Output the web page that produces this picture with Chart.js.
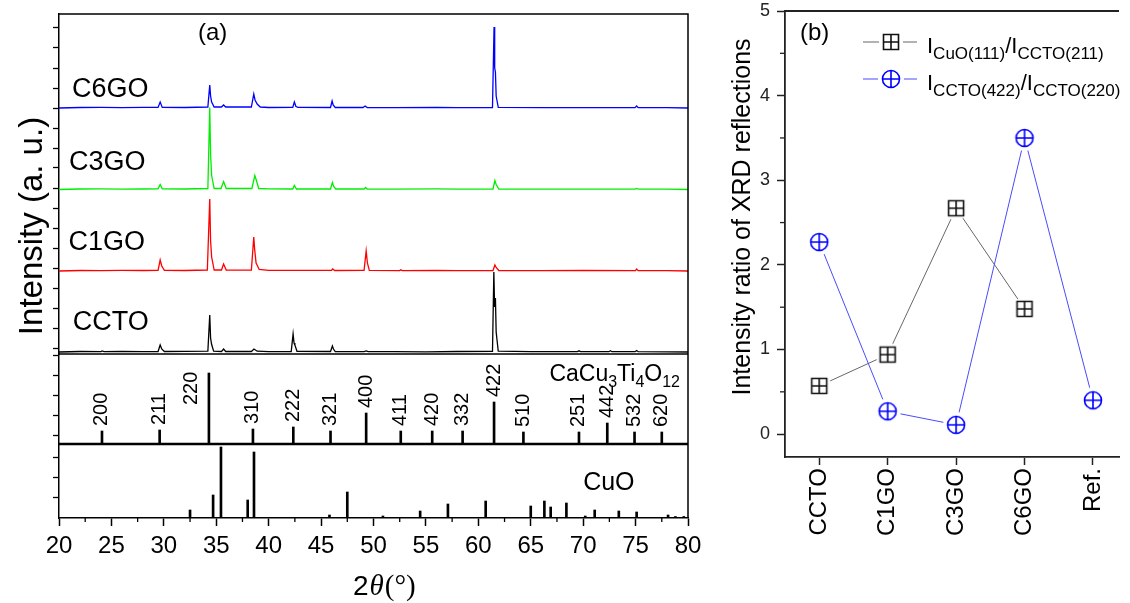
<!DOCTYPE html>
<html lang="en">
<head>
<meta charset="UTF-8">
<title>XRD patterns and intensity ratios</title>
<script src="https://cdn.jsdelivr.net/npm/chart.js"></script>
<style>
    body {
        margin: 0;
        width: 1130px;
        height: 603px;
        overflow: hidden;
        position: relative;
        background: #fff;
    }

    #xrd {
        position: absolute;
        left: 0;
        top: 0;
    }

    #ratio {
        position: absolute;
        left: 700px;
        top: 0;
    }
</style>
</head>
<body>
<canvas id="xrd" width="710" height="603"></canvas>
<canvas id="ratio" width="430" height="603"></canvas>
<script>
// ---------- panel (a): measured patterns, [2theta, intensity above own baseline] ----------
const cctoPattern = [[20,0],[22,0.5],[24,0.3],[24.1,1],[24.3,0.3],[26,0.6],[28,0.4],[29.45,0.5],[29.65,7],[29.8,3],[30.05,0.5],
    [32,0.6],[34.2,0.8],[34.38,37],[34.46,14],[34.55,8],[34.75,0.8],[35.5,0.5],[35.7,3],[35.9,0.5],[38.35,0.5],[38.6,3],[38.9,0.8],
    [40,0.4],[42.15,0.5],[42.33,18],[42.42,9],[42.5,7],[42.7,0.7],[45.9,0.5],[46.08,6],[46.18,3],[46.35,0.4],[49.1,0.3],[49.3,1],
    [49.5,0.3],[52,0.4],[55,0.2],[58,0.5],[61.35,0.6],[61.48,80],[61.55,45],[61.63,54],[61.7,20],[61.9,0.8],[65,0.3],[69.45,0.4],
    [69.6,1.2],[69.75,0.4],[72.45,0.3],[72.6,1.2],[72.75,0.3],[74.95,0.3],[75.1,1.5],[75.25,0.3],[78,0.2],[80,0]];
const c1goPattern = [[20,0],[22,0.5],[24,0.4],[26,0.6],[28,0.5],[29.45,0.6],[29.65,11],[29.8,5],[30.05,0.6],[32,0.5],[34.15,1],
    [34.38,72],[34.46,30],[34.56,14],[34.8,1],[35.5,1],[35.7,7],[35.95,1],[38.35,0.8],[38.58,34],[38.66,22],[38.8,8],[39.1,1.5],
    [40,0.6],[42.3,0.6],[46,0.6],[46.1,2],[46.3,0.5],[49.1,0.6],[49.3,20],[49.42,8],[49.6,0.6],[52.5,0.4],[52.6,1.2],[52.75,0.4],
    [56,0.5],[58,0.3],[61.4,0.5],[61.58,6],[61.7,3.5],[61.95,0.5],[66,0.4],[70,0.5],[75,0.4],[75.1,2],[75.25,0.4],[78,0.3],[80,0]];
const c3goPattern = [[20,0],[22,0.5],[24,0.6],[26,0.4],[28,0.5],[29.45,0.6],[29.65,5],[29.85,0.6],[32,0.5],[34.2,1],[34.38,82],
    [34.46,35],[34.56,14],[34.8,1],[35.45,1],[35.7,8],[35.95,1],[38.4,1],[38.68,14],[38.8,10],[39.05,1],[40,0.6],[42.3,0.5],
    [42.45,4],[42.65,0.5],[45.9,0.5],[46.08,7],[46.2,3],[46.4,0.5],[49.1,0.5],[49.25,2],[49.4,0.5],[52,0.4],[56,0.6],[58,0.4],
    [61.4,0.5],[61.58,9],[61.7,5],[61.95,0.5],[66,0.4],[70,0.3],[74.95,0.4],[75.1,1],[75.25,0.4],[78,0.3],[80,0]];
const c6goPattern = [[20,0],[22,0.5],[24,0.6],[26,0.4],[28,0.6],[29.45,0.6],[29.65,6],[29.85,0.6],[32,0.5],[34.2,1],[34.38,23],
    [34.46,12],[34.56,6],[34.8,1],[35.5,1],[35.7,3],[35.9,1],[38.35,1],[38.58,14],[38.7,8],[38.9,4],[39.2,1],[40,0.5],[42.3,0.6],
    [42.45,6],[42.6,1.5],[42.8,0.6],[45.9,0.5],[46.05,7],[46.15,3],[46.35,0.5],[49,0.5],[49.2,2],[49.4,0.5],[52,0.4],[56,0.5],
    [58,0.4],[61.35,0.5],[61.5,81],[61.56,40],[61.63,36],[61.7,12],[61.9,0.6],[66,0.4],[70,0.3],[74.95,0.4],[75.1,2],[75.25,0.4],
    [78,0.3],[80,0]];
const sampleNames = ['CCTO', 'C1GO', 'C3GO', 'C6GO'];
const patternOffsets = [2, 83, 164.5, 246];

// reference sticks
const cctoRefTheta = [24.1, 29.6, 34.3, 38.5, 42.35, 45.9, 49.3, 52.6, 55.6, 58.5, 61.5, 64.3, 69.6, 72.3, 74.9, 77.5];
const cctoRefInt = [13, 14, 71, 15, 17, 13, 31, 13, 13, 13, 42, 12, 12, 21, 12, 12];
const cctoRefHkl = ['200', '211', '220', '310', '222', '321', '400', '411', '420', '332', '422', '510', '251', '442', '532', '620'];
const cuoRefTheta = [32.5, 34.7, 35.45, 38.0, 38.6, 45.8, 47.5, 50.9, 54.45, 57.1, 60.7, 65.0, 66.3, 66.9, 68.4, 70.2, 71.1, 73.4,
    75.1, 78.1, 78.8, 79.6];
const cuoRefInt = [8, 23, 71, 18, 66, 3, 26, 2, 7, 14, 17, 12, 17, 11, 15, 2, 8, 7, 6, 3, 1.5, 1.5];

// ---------- panel (b): intensity ratios ----------
const ratioCategories = ['CCTO', 'C1GO', 'C3GO', 'C6GO', 'Ref.'];
const ratioCuO = [0.57, 0.94, 2.67, 1.48, null];
const ratioCCTO = [2.27, 0.27, 0.11, 3.5, 0.4];
const ratioTicks = [0, 1, 2, 3, 4, 5];

const FONT = "'Liberation Sans', Arial, sans-serif";
const SERIF = "'Liberation Serif', 'Times New Roman', serif";

// draw text made of normal and subscript pieces, returns width
function richText(ctx, x, y, parts, size, subSize, measureOnly) {
    let cx = x;
    parts.forEach(p => {
        ctx.font = (p.sub ? subSize : size) + 'px ' + FONT;
        if (!measureOnly) ctx.fillText(p.t, cx, y + (p.sub ? size * 0.28 : 0));
        cx += ctx.measureText(p.t).width;
    });
    return cx - x;
}

// ===================== chart (a) =====================
const patterns = [cctoPattern, c1goPattern, c3goPattern, c6goPattern];
const patternColors = ['#000000', '#ff0000', '#00ee00', '#0000ff'];
const labelLift = [22, 21, 19.5, 11];
const labelTheta = [21.3, 20.9, 20.95, 21.25];

const xrdDatasets = patterns.map((p, i) => ({
    type: 'line',
    label: sampleNames[i],
    data: p.map(d => ({ x: d[0], y: d[1] + patternOffsets[i] })),
    yAxisID: 'yPat',
    borderColor: patternColors[i],
    borderWidth: 1.3,
    pointRadius: 0,
    tension: 0
}));
xrdDatasets.push({
    type: 'bar', label: 'CaCu3Ti4O12', yAxisID: 'yRef', grouped: false, barThickness: 2,
    data: cctoRefTheta.map((t, i) => ({ x: t, y: cctoRefInt[i] })),
    backgroundColor: '#000'
});
xrdDatasets.push({
    type: 'bar', label: 'CuO', yAxisID: 'yCuO', grouped: false, barThickness: 2,
    data: cuoRefTheta.map((t, i) => ({ x: t, y: cuoRefInt[i] })),
    backgroundColor: '#000'
});

function leftAxis(max, weight, first) {
    return {
        type: 'linear', position: 'left', stack: 'left', stackWeight: weight, min: 0, max: max,
        afterBuildTicks: s => {
            const t = [];
            for (let v = first; v < max; v += 20) t.push({ value: v });
            s.ticks = t;
        },
        ticks: { display: false },
        grid: { drawOnChartArea: false, tickLength: 6, tickColor: '#000', tickWidth: 1.3 },
        border: { color: '#000', width: 1.5 },
        afterFit: s => { s.width = 59; s.paddingTop = 0; s.paddingBottom = 0; }
    };
}

const xrdDecor = {
    id: 'xrdDecor',
    afterDraw(chart) {
        const { ctx, chartArea: a } = chart;
        const x = chart.scales.x, yPat = chart.scales.yPat, yRef = chart.scales.yRef, yCuO = chart.scales.yCuO;
        ctx.save();
        ctx.strokeStyle = '#000';
        ctx.fillStyle = '#000';
        ctx.lineWidth = 1.5;
        // frame
        ctx.beginPath();
        ctx.moveTo(a.left, a.top);
        ctx.lineTo(a.right, a.top);
        ctx.lineTo(a.right, a.bottom);
        ctx.stroke();
        // dividers
        ctx.beginPath();
        ctx.moveTo(a.left, yPat.bottom);
        ctx.lineTo(a.right, yPat.bottom);
        ctx.stroke();
        ctx.lineWidth = 2.5;
        ctx.beginPath();
        ctx.moveTo(a.left, yRef.bottom);
        ctx.lineTo(a.right, yRef.bottom);
        ctx.stroke();
        // minor x ticks
        ctx.lineWidth = 1.3;
        for (let t = 22.5; t < 80; t += 5) {
            const px = x.getPixelForValue(t);
            ctx.beginPath();
            ctx.moveTo(px, a.bottom);
            ctx.lineTo(px, a.bottom + 4);
            ctx.stroke();
        }
        // hkl labels
        ctx.font = '20px ' + FONT;
        ctx.textBaseline = 'middle';
        ctx.textAlign = 'left';
        cctoRefTheta.forEach((t, i) => {
            let px = x.getPixelForValue(t);
            let py = yRef.getPixelForValue(cctoRefInt[i]) - 5;
            if (cctoRefInt[i] > 60) { // tallest stick: label beside it
                px -= 17;
                py = yRef.getPixelForValue(39);
            }
            ctx.save();
            ctx.translate(px, py);
            ctx.rotate(-Math.PI / 2);
            ctx.fillText(cctoRefHkl[i], 0, 0);
            ctx.restore();
        });
        ctx.textBaseline = 'alphabetic';
        // sample names
        ctx.font = '27px ' + FONT;
        sampleNames.forEach((n, i) => {
            ctx.fillText(n, x.getPixelForValue(labelTheta[i]), yPat.getPixelForValue(patternOffsets[i] + labelLift[i]));
        });
        // panel texts
        ctx.font = '24px ' + FONT;
        ctx.fillText('(a)', 198, 40);
        ctx.font = '25px ' + FONT;
        ctx.fillText('CuO', x.getPixelForValue(70), yCuO.getPixelForValue(28));
        const formula = [{ t: 'CaCu' }, { t: '3', sub: true }, { t: 'Ti' }, { t: '4', sub: true }, { t: 'O' }, { t: '12', sub: true }];
        const fw = richText(ctx, 0, 0, formula, 23, 16, true);
        richText(ctx, a.right - 8 - fw, yRef.top + 27, formula, 23, 16);
        // axis titles
        ctx.save();
        ctx.translate(31, 226);
        ctx.rotate(-Math.PI / 2);
        ctx.font = '33px ' + FONT;
        ctx.textAlign = 'center';
        ctx.fillText('Intensity (a. u.)', 0, 11);
        ctx.restore();
        let tx = 353;
        ctx.font = '28px ' + FONT;
        ctx.fillText('2', tx, 595);
        tx += ctx.measureText('2').width + 1;
        ctx.font = 'italic 29px ' + SERIF;
        ctx.fillText('\u03b8', tx, 595);
        tx += ctx.measureText('\u03b8').width + 1;
        ctx.font = '29px ' + SERIF;
        ctx.fillText('(\u00b0)', tx, 595);
        ctx.restore();
    }
};

new Chart(document.getElementById('xrd'), {
    type: 'line',
    data: { datasets: xrdDatasets },
    options: {
        responsive: false,
        animation: false,
        events: [],
        layout: { padding: { top: 14, right: 22, left: 0, bottom: 0 } },
        plugins: { legend: { display: false }, tooltip: { enabled: false } },
        scales: {
            x: {
                type: 'linear', position: 'bottom', min: 20, max: 80, offset: false,
                ticks: { stepSize: 5, autoSkip: false, maxRotation: 0, padding: 6, color: '#000', font: { family: FONT, size: 24 } },
                grid: { offset: false, drawOnChartArea: false, tickLength: 8, tickColor: '#000', tickWidth: 1.5 },
                border: { color: '#000', width: 1.5 },
                afterFit: s => { s.height = 85; s.paddingLeft = 0; s.paddingRight = 0; }
            },
            yCuO: leftAxis(74, 74, 21),
            yRef: leftAxis(90, 90, 9),
            yPat: leftAxis(340, 340, 6)
        }
    },
    plugins: [xrdDecor]
});

// ===================== chart (b) =====================
function makeMarker(kind, color) {
    const c = document.createElement('canvas');
    c.width = 28;
    c.height = 28;
    const g = c.getContext('2d');
    const m = 14;
    g.fillStyle = '#fff';
    g.beginPath();
    g.arc(m, m, kind === 'square' ? 12 : 13, 0, Math.PI * 2);
    g.fill();
    g.strokeStyle = color;
    g.lineWidth = 1.6;
    g.beginPath();
    if (kind === 'square') {
        g.rect(m - 7.5, m - 7.5, 15, 15);
        g.moveTo(m, m - 7.5); g.lineTo(m, m + 7.5);
        g.moveTo(m - 7.5, m); g.lineTo(m + 7.5, m);
    } else {
        g.arc(m, m, 8.5, 0, Math.PI * 2);
        g.moveTo(m, m - 8.5); g.lineTo(m, m + 8.5);
        g.moveTo(m - 8.5, m); g.lineTo(m + 8.5, m);
    }
    g.stroke();
    return c;
}
const squareMarker = makeMarker('square', '#111');
const circleMarker = makeMarker('circle', '#0000ff');

const ratioDecor = {
    id: 'ratioDecor',
    afterDraw(chart) {
        const { ctx, chartArea: a } = chart;
        const y = chart.scales.y;
        ctx.save();
        ctx.strokeStyle = '#222';
        ctx.fillStyle = '#000';
        ctx.lineWidth = 1.8;
        ctx.beginPath();
        ctx.moveTo(a.left, a.top);
        ctx.lineTo(a.right, a.top);
        ctx.stroke();
        // minor y ticks
        ctx.lineWidth = 1.3;
        for (let v = 0.5; v < 5; v += 1) {
            const py = y.getPixelForValue(v);
            ctx.beginPath();
            ctx.moveTo(a.left, py);
            ctx.lineTo(a.left - 5, py);
            ctx.stroke();
        }
        ctx.font = '24px ' + FONT;
        ctx.fillText('(b)', 100, 40);
        // y title
        ctx.save();
        ctx.translate(41, 217);
        ctx.rotate(-Math.PI / 2);
        ctx.font = '25px ' + FONT;
        ctx.textAlign = 'center';
        ctx.fillText('Intensity ratio of XRD reflections', 0, 9);
        ctx.restore();
        // legend
        const rows = [
            { img: squareMarker, line: '#666', cy: 42, parts: [{ t: 'I' }, { t: 'CuO(111)', sub: true }, { t: '/I' }, { t: 'CCTO(211)', sub: true }] },
            { img: circleMarker, line: '#4a4aff', cy: 79, parts: [{ t: 'I' }, { t: 'CCTO(422)', sub: true }, { t: '/I' }, { t: 'CCTO(220)', sub: true }] }
        ];
        rows.forEach(r => {
            ctx.strokeStyle = r.line;
            ctx.lineWidth = 1;
            ctx.beginPath();
            ctx.moveTo(163, r.cy);
            ctx.lineTo(217, r.cy);
            ctx.stroke();
            ctx.drawImage(r.img, 191 - 14, r.cy - 14);
            ctx.fillStyle = '#000';
            richText(ctx, 227, r.cy + 11, r.parts, 22, 17);
        });
        ctx.restore();
    }
};

new Chart(document.getElementById('ratio'), {
    type: 'line',
    data: {
        datasets: [
            {
                label: 'I CuO(111) / I CCTO(211)',
                data: ratioCategories.map((c, i) => ({ x: i, y: ratioCuO[i] })),
                borderColor: '#666', borderWidth: 1, pointStyle: squareMarker, pointRadius: 10, order: 2
            },
            {
                label: 'I CCTO(422) / I CCTO(220)',
                data: ratioCategories.map((c, i) => ({ x: i, y: ratioCCTO[i] })),
                borderColor: '#4a4aff', borderWidth: 1, pointStyle: circleMarker, pointRadius: 10, order: 1
            }
        ]
    },
    options: {
        responsive: false,
        animation: false,
        events: [],
        layout: { padding: { top: 10, right: 0, left: 0, bottom: 0 } },
        plugins: { legend: { display: false }, tooltip: { enabled: false } },
        scales: {
            x: {
                type: 'linear', min: -0.5, max: 4.38,
                afterBuildTicks: s => { s.ticks = ratioCategories.map((c, i) => ({ value: i })); },
                ticks: {
                    autoSkip: false, minRotation: 90, maxRotation: 90, padding: 3, color: '#000',
                    font: { family: FONT, size: 24 },
                    callback: v => ratioCategories[v]
                },
                grid: { drawOnChartArea: false, tickLength: 8, tickColor: '#222', tickWidth: 1.5 },
                border: { color: '#222', width: 1.8 },
                afterFit: s => { s.height = 146; s.paddingLeft = 0; s.paddingRight = 0; }
            },
            y: {
                type: 'linear', min: -0.27, max: 5,
                afterBuildTicks: s => { s.ticks = ratioTicks.map(v => ({ value: v })); },
                ticks: { padding: 7, color: '#222', font: { family: FONT, size: 18 } },
                grid: { drawOnChartArea: false, tickLength: 8, tickColor: '#222', tickWidth: 1.5 },
                border: { color: '#222', width: 1.8 },
                afterFit: s => { s.width = 85; s.paddingTop = 0; s.paddingBottom = 0; }
            }
        }
    },
    plugins: [ratioDecor]
});
</script>
</body>
</html>
